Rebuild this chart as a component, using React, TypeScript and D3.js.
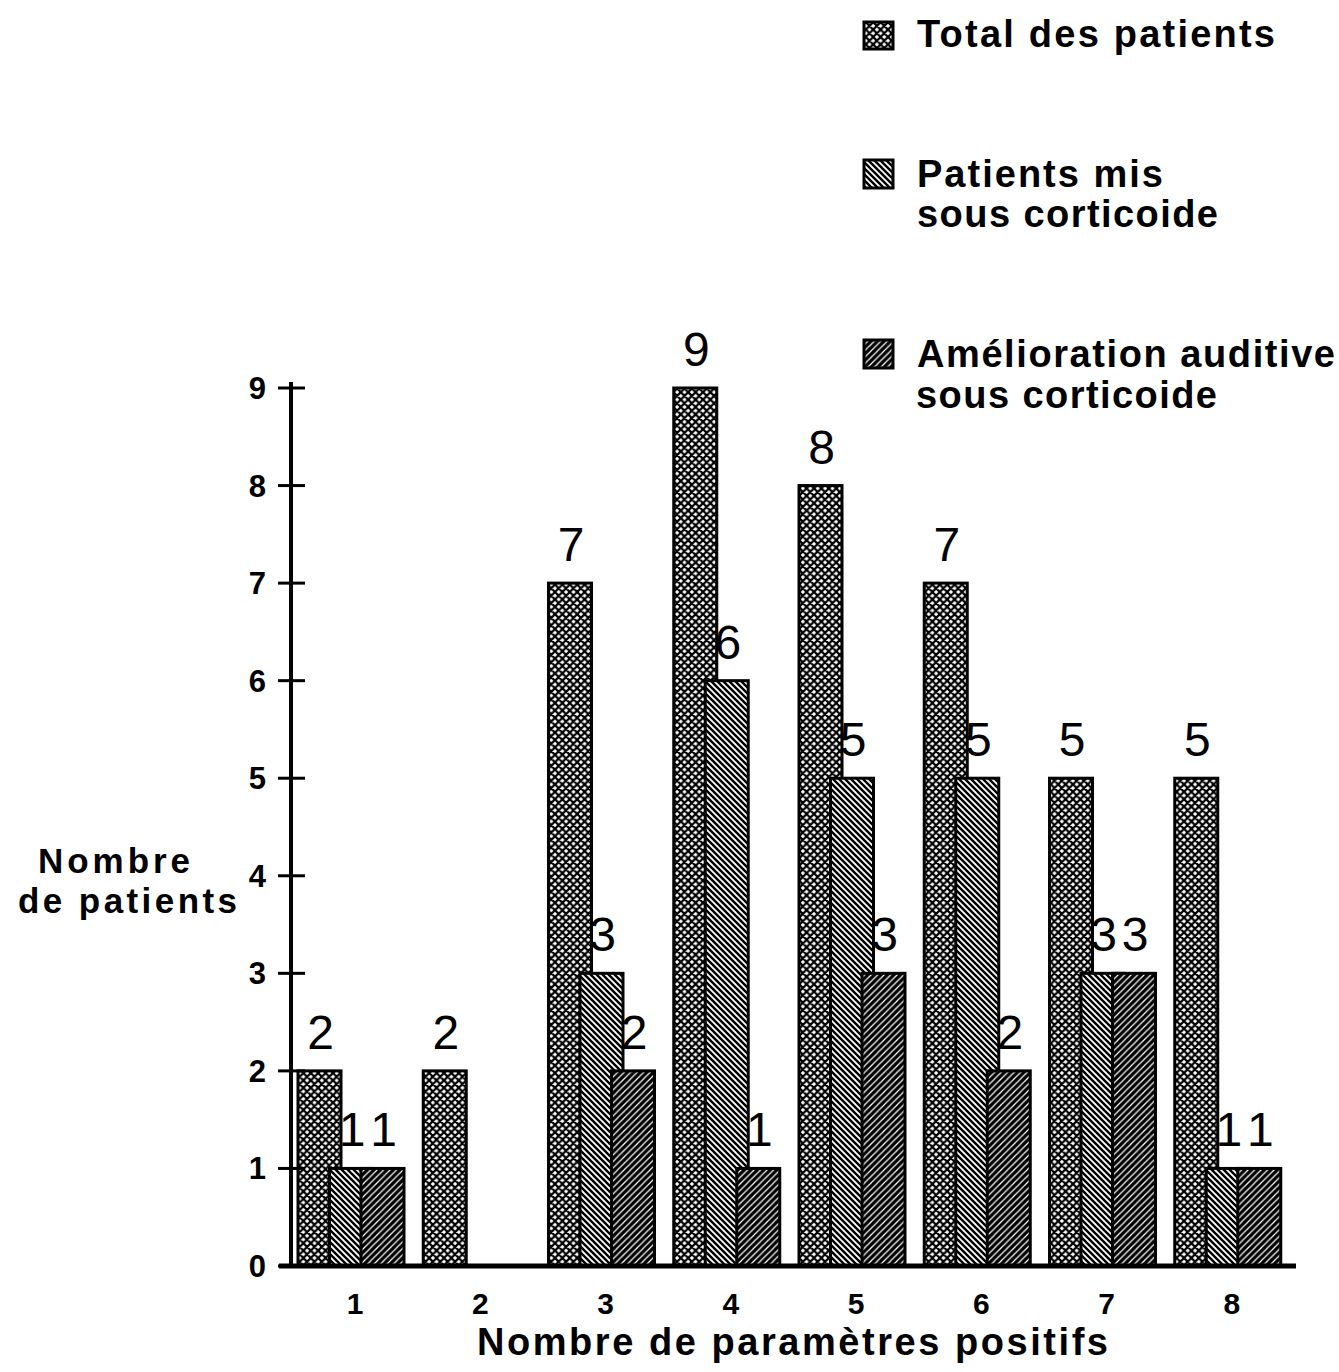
import React from "react";
import * as d3 from "d3";

const categories = ["1", "2", "3", "4", "5", "6", "7", "8"];
const totalPatients = [2, 2, 7, 9, 8, 7, 5, 5];
const patientsCorticoide = [1, 0, 3, 6, 5, 5, 3, 1];
const ameliorationAuditive = [1, 0, 2, 1, 3, 2, 3, 1];
const yTicks = [0, 1, 2, 3, 4, 5, 6, 7, 8, 9];

const seriesList = [
  { key: "total", values: totalPatients, fill: "url(#pCross)" },
  { key: "mis", values: patientsCorticoide, fill: "url(#pBack)" },
  { key: "amel", values: ameliorationAuditive, fill: "url(#pFwd)" },
];

const W = 1339;
const H = 1372;
const FONT = "'Liberation Sans', Arial, Helvetica, sans-serif";

export default function App() {
  const x = d3.scaleBand<string>().domain(categories).range([289, 1291]).padding(0);
  const y = d3.scaleLinear().domain([0, 9]).range([1266, 388]);
  const barW = 43;
  const groupStart = (c: string) => (x(c) as number) + 9;
  const offset = (i: number) => i * 31.5;

  return (
    <svg
      width={W}
      height={H}
      viewBox={`0 0 ${W} ${H}`}
      style={{ position: "absolute", left: 0, top: 0, background: "#fff" }}
    >
      <defs>
        <pattern id="pCross" patternUnits="userSpaceOnUse" width={7.4} height={7.4}>
          <rect width={7.4} height={7.4} fill="#fff" />
          <path d="M0,0 L7.4,7.4 M7.4,0 L0,7.4 M-1,6.4 L1,8.4 M6.4,-1 L8.4,1 M-1,1 L1,-1 M6.4,8.4 L8.4,6.4" stroke="#000" strokeWidth={2.2} />
        </pattern>
        <pattern id="pBack" patternUnits="userSpaceOnUse" width={6} height={6}>
          <rect width={6} height={6} fill="#fff" />
          <path d="M-1,-1 L7,7 M-1,5 L1,7 M5,-1 L7,1" stroke="#000" strokeWidth={2.4} />
        </pattern>
        <pattern id="pFwd" patternUnits="userSpaceOnUse" width={6.5} height={6.5}>
          <rect width={6.5} height={6.5} fill="#000" />
          <path d="M-1,7.5 L7.5,-1 M-1,1 L1,-1 M5.5,7.5 L7.5,5.5" stroke="#fff" strokeWidth={1.2} />
        </pattern>
      </defs>

      {/* bars */}
      {categories.map((c, ci) => (
        <g key={c}>
          {seriesList.map((s, si) => {
            const v = s.values[ci];
            if (v <= 0) return null;
            return (
              <rect
                key={s.key}
                x={groupStart(c) + offset(si)}
                y={y(v)}
                width={barW}
                height={y(0) - y(v)}
                fill={s.fill}
                stroke="#000"
                strokeWidth={3}
              />
            );
          })}
        </g>
      ))}

      {/* value labels */}
      {categories.map((c, ci) => (
        <g key={"l" + c}>
          {seriesList.map((s, si) => {
            const v = s.values[ci];
            if (v <= 0) return null;
            return (
              <text
                key={s.key}
                x={groupStart(c) + offset(si) + barW / 2 + 1}
                y={y(v) - 22}
                textAnchor="middle"
                fontFamily={FONT}
                fontSize={48}
                fill="#000"
              >
                {v}
              </text>
            );
          })}
        </g>
      ))}

      {/* y axis */}
      <line x1={291} x2={291} y1={382} y2={1268} stroke="#000" strokeWidth={4} />
      {yTicks.map((t) => (
        <g key={"yt" + t}>
          <line x1={278} x2={305} y1={y(t)} y2={y(t)} stroke="#000" strokeWidth={3} />
          <text
            x={266}
            y={y(t) + 11}
            textAnchor="end"
            fontFamily={FONT}
            fontWeight="bold"
            fontSize={31}
          >
            {t}
          </text>
        </g>
      ))}

      {/* x axis */}
      <line x1={279} x2={1296} y1={1266} y2={1266} stroke="#000" strokeWidth={5} />
      {categories.map((c) => (
        <text
          key={"xt" + c}
          x={(x(c) as number) + 66}
          y={1314}
          textAnchor="middle"
          fontFamily={FONT}
          fontWeight="bold"
          fontSize={30}
        >
          {c}
        </text>
      ))}

      {/* axis titles */}
      <text x={477} y={1355} fontFamily={FONT} fontWeight="bold" fontSize={38} textLength={631} lengthAdjust="spacing">
        Nombre de paramètres positifs
      </text>
      <text x={38} y={873} fontFamily={FONT} fontWeight="bold" fontSize={35} textLength={152} lengthAdjust="spacing">
        Nombre
      </text>
      <text x={18} y={913} fontFamily={FONT} fontWeight="bold" fontSize={35} textLength={219} lengthAdjust="spacing">
        de patients
      </text>

      {/* legend */}
      <rect x={864} y={22} width={29} height={27} fill="url(#pCross)" stroke="#000" strokeWidth={3} />
      <text x={917} y={47} fontFamily={FONT} fontWeight="bold" fontSize={38} textLength={358} lengthAdjust="spacing">
        Total des patients
      </text>

      <rect x={864} y={160} width={29} height={28} fill="url(#pBack)" stroke="#000" strokeWidth={3} />
      <text x={917} y={187} fontFamily={FONT} fontWeight="bold" fontSize={38} textLength={246} lengthAdjust="spacing">
        Patients mis
      </text>
      <text x={917} y={227} fontFamily={FONT} fontWeight="bold" fontSize={38} textLength={301} lengthAdjust="spacing">
        sous corticoide
      </text>

      <rect x={864} y={340} width={29} height={28} fill="url(#pFwd)" stroke="#000" strokeWidth={3} />
      <text x={917} y={367} fontFamily={FONT} fontWeight="bold" fontSize={38} textLength={418} lengthAdjust="spacing">
        Amélioration auditive
      </text>
      <text x={916} y={408} fontFamily={FONT} fontWeight="bold" fontSize={38} textLength={301} lengthAdjust="spacing">
        sous corticoide
      </text>
    </svg>
  );
}
